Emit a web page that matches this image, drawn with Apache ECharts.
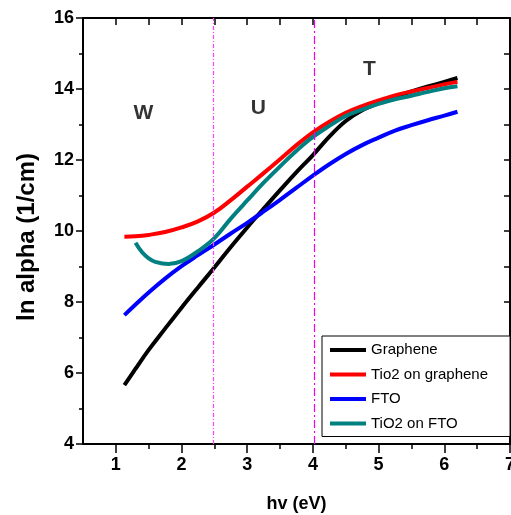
<!DOCTYPE html>
<html>
<head>
<meta charset="utf-8">
<script src="https://cdn.jsdelivr.net/npm/echarts@6/dist/echarts.min.js"></script>
<style>
  html, body { margin: 0; padding: 0; background: #fff; }
  #chart { width: 511px; height: 515px; }
</style>
</head>
<body>
<div id="chart"></div>
<script>
// Photon energy (eV) sampled along the absorption curves
const energy = [1.13, 1.3, 1.5, 1.75, 2.0, 2.25, 2.5, 2.75, 3.0, 3.25, 3.5, 3.75, 4.0, 4.25, 4.5, 4.75, 5.0, 5.25, 5.5, 5.75, 6.0, 6.2];
const graphene = [5.66, 6.12, 6.65, 7.25, 7.84, 8.41, 8.97, 9.55, 10.1, 10.63, 11.15, 11.66, 12.14, 12.66, 13.1, 13.4, 13.6, 13.78, 13.93, 14.07, 14.2, 14.31];
const tio2OnGraphene = [9.84, 9.85, 9.89, 9.97, 10.1, 10.27, 10.52, 10.87, 11.25, 11.63, 12.02, 12.42, 12.78, 13.08, 13.33, 13.52, 13.68, 13.82, 13.93, 14.03, 14.13, 14.2];
const fto = [7.63, 7.93, 8.27, 8.66, 9.01, 9.32, 9.62, 9.93, 10.23, 10.55, 10.88, 11.22, 11.56, 11.88, 12.17, 12.42, 12.63, 12.83, 12.98, 13.12, 13.25, 13.36];
// TiO2 on FTO starts at a slightly higher energy
const energyTiO2FTO = [1.3, 1.4, 1.5, 1.6, 1.8, 2.0, 2.25, 2.5, 2.75, 3.0, 3.25, 3.5, 3.75, 4.0, 4.25, 4.5, 4.75, 5.0, 5.25, 5.5, 5.75, 6.0, 6.2];
const tio2OnFTO = [9.67, 9.4, 9.23, 9.13, 9.07, 9.15, 9.43, 9.8, 10.35, 10.86, 11.36, 11.82, 12.26, 12.65, 12.96, 13.24, 13.42, 13.58, 13.71, 13.81, 13.92, 14.02, 14.08];

const seriesNames = ['Graphene', 'Tio2 on graphene', 'FTO', 'TiO2 on FTO'];
const seriesColors = ['#000000', '#ff0000', '#0000ff', '#008080'];

// Axis ticks
const xTickValues = [1, 2, 3, 4, 5, 6, 7];
const xHalfTickValues = [1.5, 2.5, 3.5, 4.5, 5.5, 6.5];

// Region boundaries and region letters
const boundaries = [2.48, 4.02];
const regionLabels = ['W', 'U', 'T'];
const regionX = [1.42, 3.17, 4.86];
const regionY = [13.32, 13.46, 14.56];

const pairs = (xs, ys) => xs.map((x, i) => [x, ys[i]]);

const sans = 'Liberation Sans, Arial, sans-serif';
const tickFont = { fontFamily: sans, fontWeight: 'bold', fontSize: 18, color: '#000' };

const gridRect = { left: 83, top: 18, right: 1, bottom: 71, outerBoundsMode: 'none', containLabel: false };

const curves = [
  pairs(energy, graphene),
  pairs(energy, tio2OnGraphene),
  pairs(energy, fto),
  pairs(energyTiO2FTO, tio2OnFTO)
];

const lineSeries = curves.map((data, i) => ({
  name: seriesNames[i],
  type: 'line',
  xAxisIndex: 0,
  yAxisIndex: 0,
  data: data,
  smooth: 0.4,
  showSymbol: false,
  symbol: 'none',
  lineStyle: { color: seriesColors[i], width: 4 },
  itemStyle: { color: seriesColors[i] },
  z: 3,
  animation: false
}));

// Region boundary lines
lineSeries[0].markLine = {
  silent: true,
  symbol: 'none',
  label: { show: false },
  lineStyle: { color: '#ff00ff', width: 1.2 },
  data: [
    { xAxis: boundaries[0], lineStyle: { color: '#ff44ff', width: 1.2, type: [4, 2, 1, 2] } },
    { xAxis: boundaries[1], lineStyle: { color: '#ee00ee', width: 1.2, type: [8, 3, 2, 3] } }
  ]
};

const regionSeries = {
  type: 'scatter',
  xAxisIndex: 0,
  yAxisIndex: 0,
  symbolSize: 0,
  silent: true,
  animation: false,
  data: regionLabels.map((t, i) => ({ value: [regionX[i], regionY[i]], name: t })),
  label: {
    show: true,
    position: 'inside',
    formatter: p => p.name,
    fontFamily: sans,
    fontWeight: 'bold',
    fontSize: 21,
    color: '#000'
  }
};

const chart = echarts.init(document.getElementById('chart'), null, { renderer: 'canvas' });
chart.setOption({
  backgroundColor: '#fff',
  animation: false,
  grid: [
    Object.assign({}, gridRect),
    Object.assign({}, gridRect)
  ],
  xAxis: [
    {
      type: 'value', gridIndex: 0, position: 'bottom',
      min: 0.5, max: 7,
      name: 'hv (eV)', nameLocation: 'middle', nameGap: 51,
      nameTextStyle: { fontFamily: sans, fontWeight: 'bold', fontSize: 18, color: '#000' },
      axisLine: { onZero: false, lineStyle: { color: '#000', width: 2 } },
      axisTick: { show: true, inside: false, length: 9, customValues: xTickValues, lineStyle: { color: '#000', width: 1.5 } },
      axisLabel: Object.assign({ margin: 12, customValues: xTickValues }, tickFont),
      splitLine: { show: false }
    },
    {
      type: 'value', gridIndex: 0, position: 'top',
      min: 0.5, max: 7, interval: 0.5,
      axisLine: { onZero: false, lineStyle: { color: '#000', width: 2 } },
      axisTick: { show: true, inside: true, length: 7, lineStyle: { color: '#000', width: 1.5 } },
      axisLabel: { show: false },
      splitLine: { show: false }
    },
    {
      type: 'value', gridIndex: 1, position: 'bottom',
      min: 0.5, max: 7,
      axisLine: { show: false },
      axisTick: { show: true, inside: false, length: 5, customValues: xHalfTickValues, lineStyle: { color: '#000', width: 1.5 } },
      axisLabel: { show: false },
      splitLine: { show: false }
    }
  ],
  yAxis: [
    {
      type: 'value', gridIndex: 0, position: 'left',
      min: 4, max: 16, interval: 2,
      name: 'ln alpha (1/cm)', nameLocation: 'middle', nameGap: 44, nameRotate: 90,
      nameTextStyle: { fontFamily: sans, fontWeight: 'bold', fontSize: 24, color: '#000', padding: [0, 12, 0, 0] },
      axisLine: { onZero: false, lineStyle: { color: '#000', width: 2 } },
      axisTick: { show: true, inside: false, length: 7, lineStyle: { color: '#000', width: 1.5 } },
      minorTick: { show: true, splitNumber: 2, length: 4, lineStyle: { color: '#000', width: 1.5 } },
      axisLabel: Object.assign({ margin: 9 }, tickFont),
      splitLine: { show: false }
    },
    {
      type: 'value', gridIndex: 0, position: 'right',
      min: 4, max: 16, interval: 1,
      axisLine: { onZero: false, lineStyle: { color: '#000', width: 2 } },
      axisTick: { show: true, inside: true, length: 6, lineStyle: { color: '#000', width: 1.5 } },
      axisLabel: { show: false },
      splitLine: { show: false }
    },
    {
      type: 'value', gridIndex: 1, min: 4, max: 16, show: false
    }
  ],
  legend: {
    data: seriesNames,
    orient: 'vertical',
    left: 322,
    top: 336,
    padding: [6, 22, 5, 8],
    itemGap: 8.5,
    itemWidth: 36,
    itemHeight: 4,
    icon: 'rect',
    backgroundColor: '#fff',
    borderColor: '#000',
    borderWidth: 1,
    borderRadius: 0,
    selectedMode: false,
    textStyle: { fontFamily: sans, fontSize: 15, lineHeight: 16, color: '#000' }
  },
  series: lineSeries.concat([regionSeries])
});
</script>
</body>
</html>
